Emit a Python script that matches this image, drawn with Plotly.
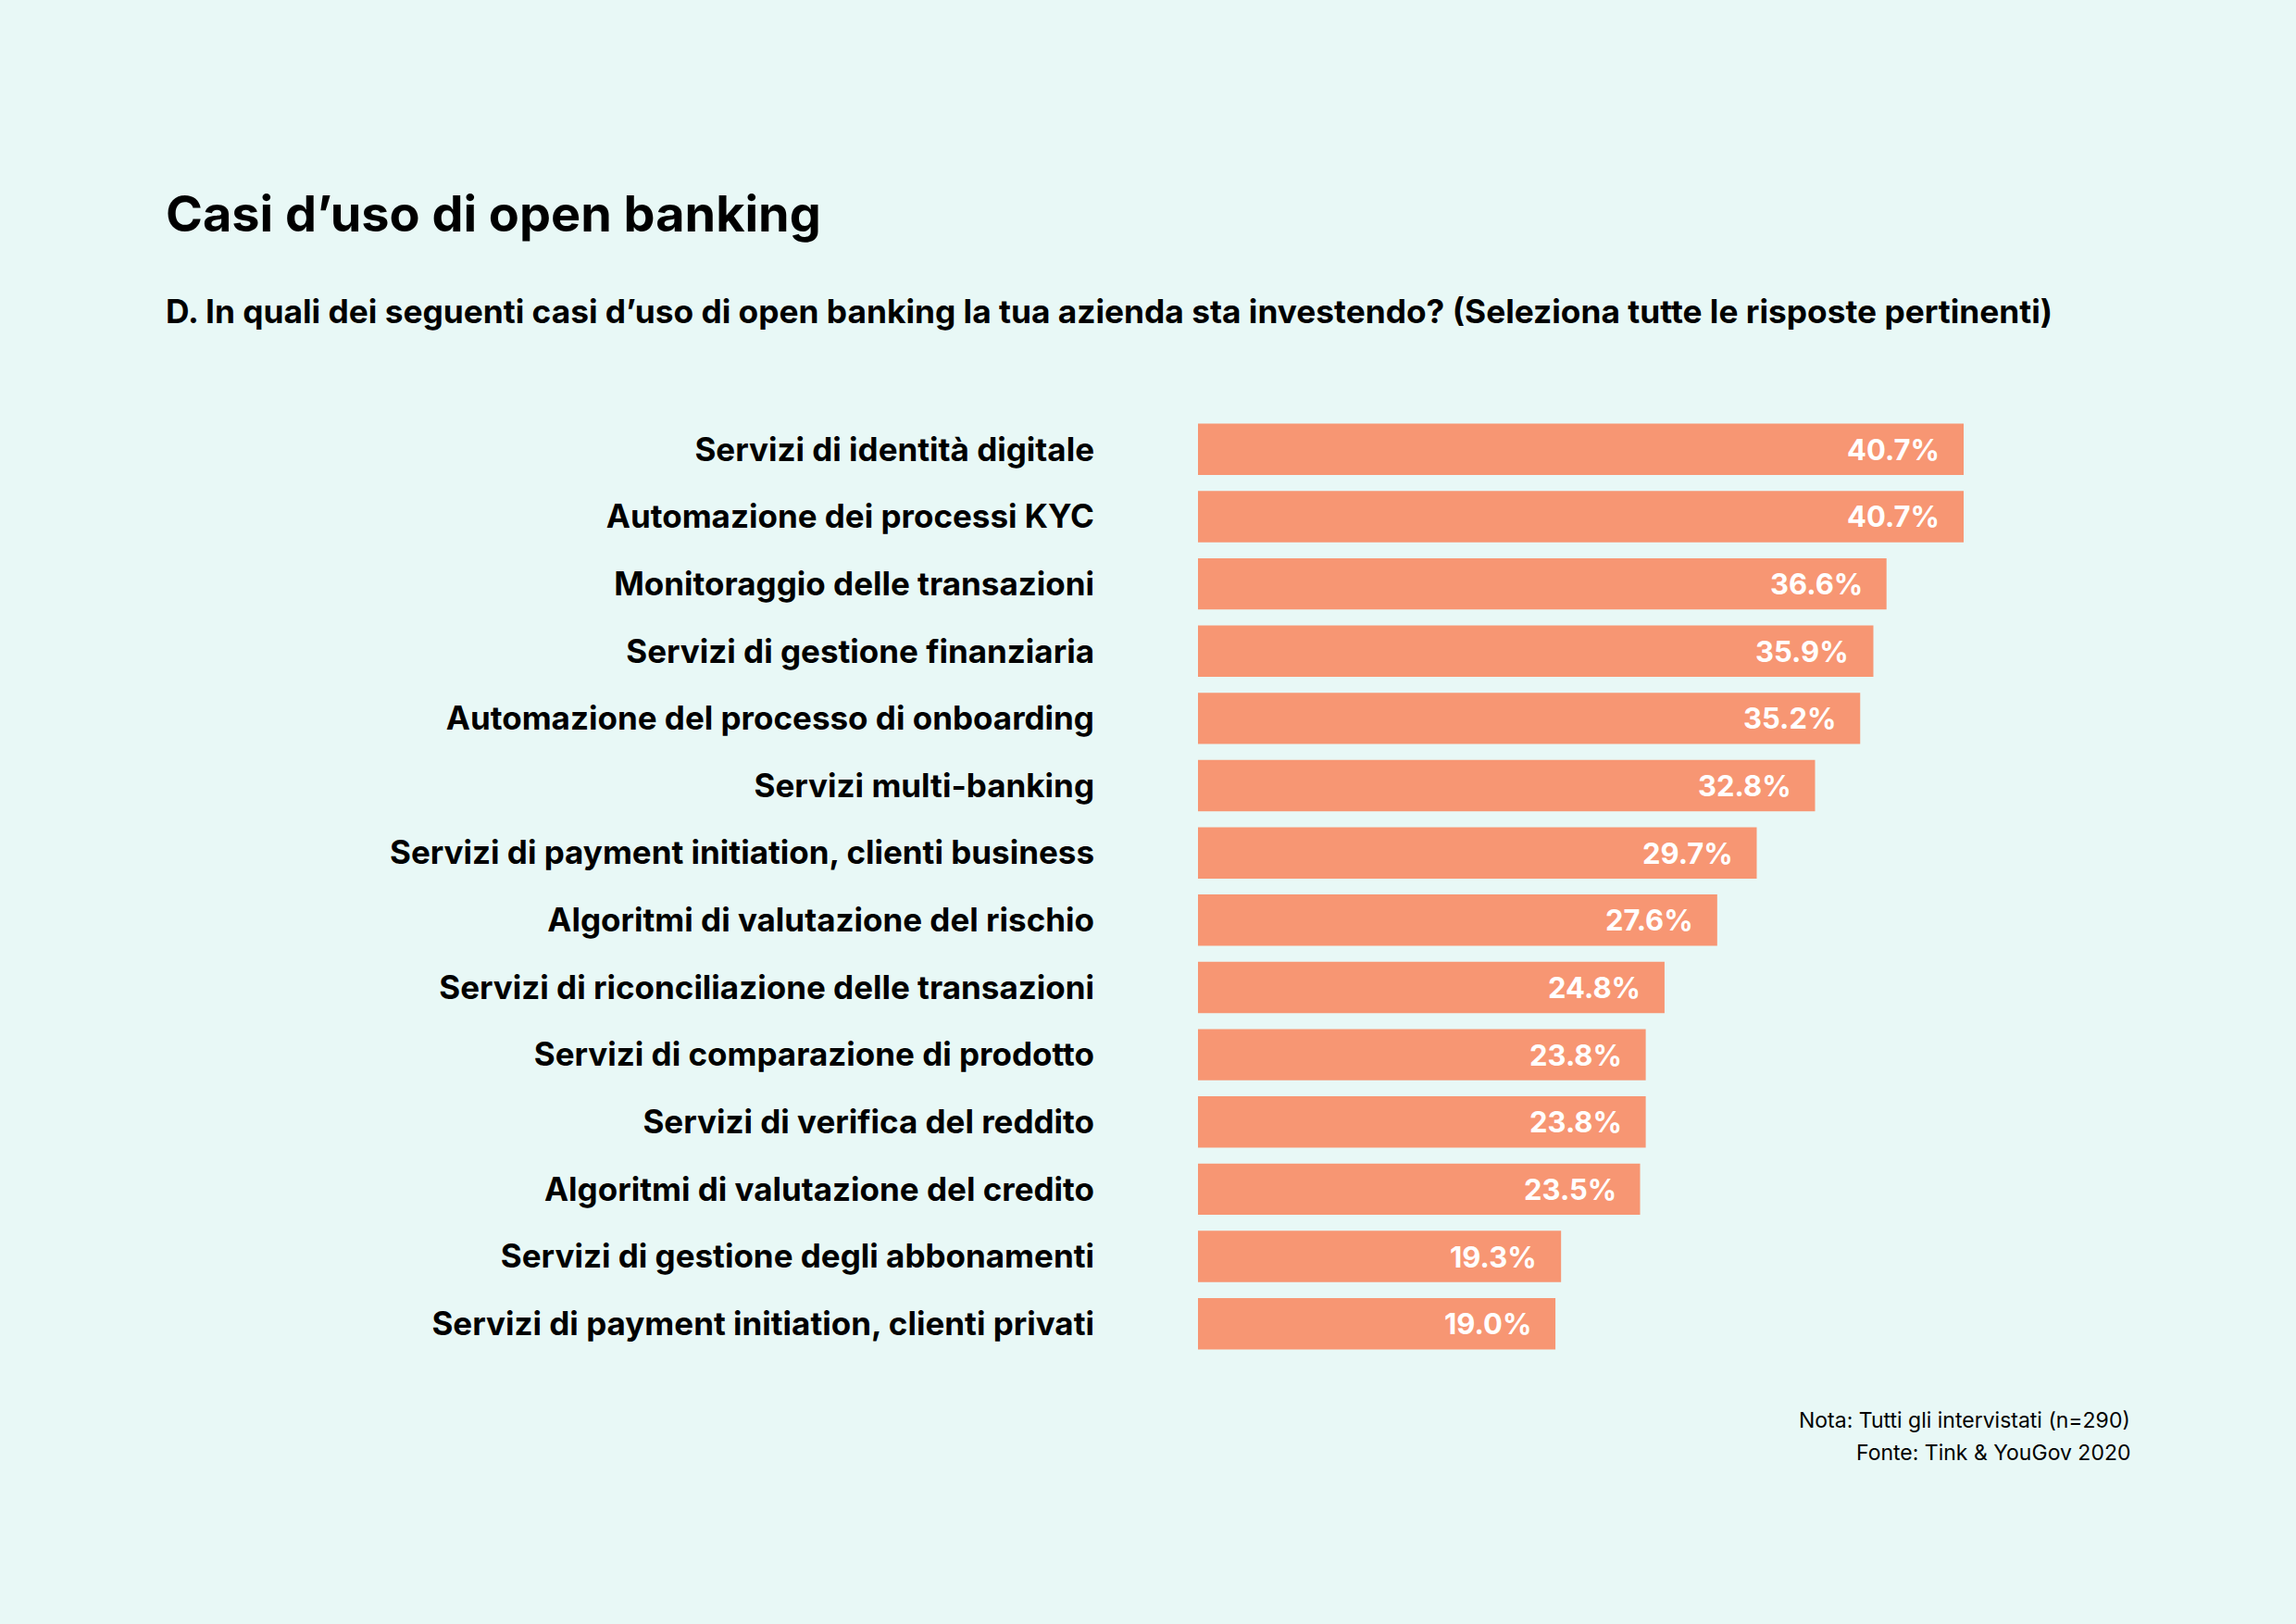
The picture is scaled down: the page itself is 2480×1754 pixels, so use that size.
import plotly.graph_objects as go

# Data (top to bottom as shown)
categories = [
    "Servizi di identità digitale",
    "Automazione dei processi KYC",
    "Monitoraggio delle transazioni",
    "Servizi di gestione finanziaria",
    "Automazione del processo di onboarding",
    "Servizi multi-banking",
    "Servizi di payment initiation, clienti business",
    "Algoritmi di valutazione del rischio",
    "Servizi di riconciliazione delle transazioni",
    "Servizi di comparazione di prodotto",
    "Servizi di verifica del reddito",
    "Algoritmi di valutazione del credito",
    "Servizi di gestione degli abbonamenti",
    "Servizi di payment initiation, clienti privati",
]
values = [40.7, 40.7, 36.6, 35.9, 35.2, 32.8, 29.7, 27.6, 24.8, 23.8, 23.8, 23.5, 19.3, 19.0]
value_labels = [f"{v:.1f}%" for v in values]

BG = "#E8F8F6"
BAR = "#F79673"
FONT = "Inter"

W, H = 2480, 1754
ML, MR, MT, MB = 1294, 170, 449, 288


def px_to_paper(px, py):
    # page pixel position -> paper coords of the plot area
    return (px - ML) / (W - ML - MR), 1 - (py - MT) / (H - MT - MB)


fig = go.Figure()

fig.add_trace(go.Bar(
    x=values,
    y=categories,
    orientation="h",
    marker=dict(color=BAR, line=dict(width=0)),
    hoverinfo="skip",
))

# value labels inside the bar ends
for cat, v, lab in zip(categories, values, value_labels):
    fig.add_annotation(
        x=v, y=cat, text=lab, showarrow=False,
        xanchor="right", yanchor="middle", xshift=-24,
        font=dict(family=FONT, size=31, color="white", weight=700),
    )

# title, subtitle
x, y = px_to_paper(177, 231)
fig.add_annotation(
    x=x, y=y, xref="paper", yref="paper", text="Casi d’uso di open banking",
    showarrow=False, xanchor="left", yanchor="middle",
    font=dict(family=FONT, size=54, color="black", weight=700),
)
x, y = px_to_paper(177, 337)
fig.add_annotation(
    x=x, y=y, xref="paper", yref="paper",
    text="D. In quali dei seguenti casi d’uso di open banking la tua azienda sta investendo? (Seleziona tutte le risposte pertinenti)",
    showarrow=False, xanchor="left", yanchor="middle",
    font=dict(family=FONT, size=35.3, color="black", weight=700),
)

# footnotes
for txt, py in [("Nota: Tutti gli intervistati (n=290)", 1534),
                ("Fonte: Tink &amp; YouGov 2020", 1569)]:
    x, y = px_to_paper(2303, py)
    fig.add_annotation(
        x=x, y=y, xref="paper", yref="paper", text=txt,
        showarrow=False, xanchor="right", yanchor="middle",
        font=dict(family=FONT, size=23, color="black"),
    )

fig.update_layout(
    width=W, height=H,
    paper_bgcolor=BG, plot_bgcolor=BG,
    margin=dict(l=ML, r=MR, t=MT, b=MB, pad=0),
    showlegend=False,
    bargap=0.237,
    xaxis=dict(range=[0, 50], visible=False, fixedrange=True),
    yaxis=dict(
        type="category", autorange="reversed",
        showgrid=False, zeroline=False, showline=False, ticks="",
        ticklabelstandoff=111,
        tickfont=dict(family=FONT, size=35, color="black", weight=700),
    ),
)

fig.write_html("out.html", config={"displayModeBar": False},
               post_script="document.body.style.margin='0';")
